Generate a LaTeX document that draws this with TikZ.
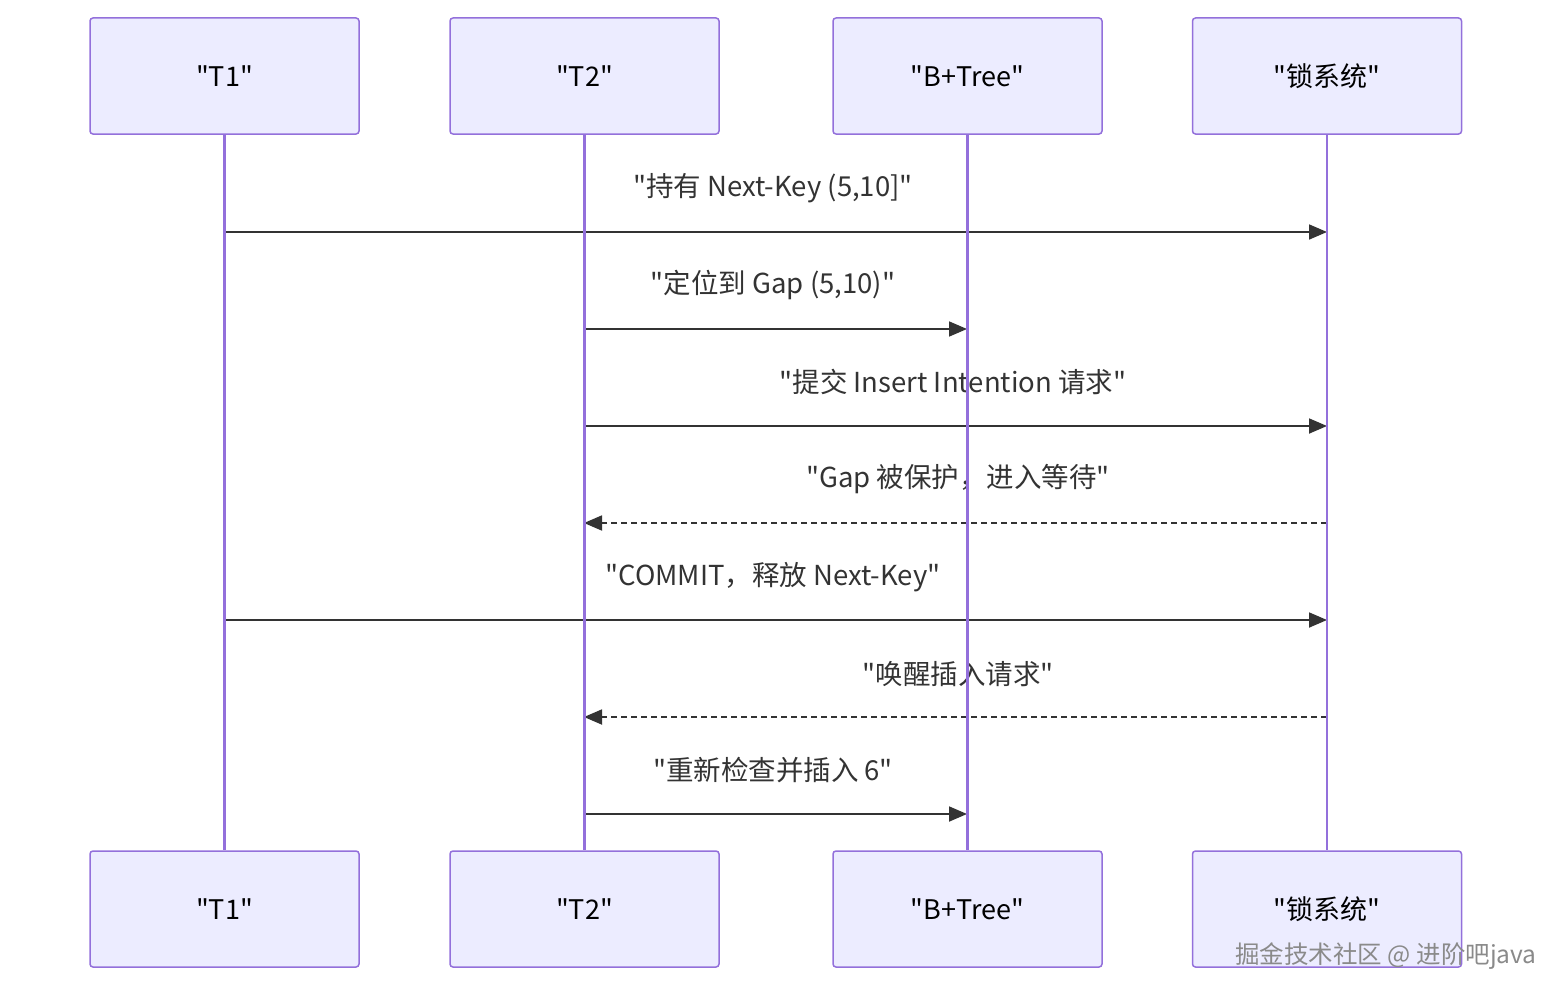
\documentclass[tikz,border=0pt]{standalone}
\usepackage{fontspec}
\newfontfamily\mf{Noto Sans CJK SC}
\usetikzlibrary{arrows.meta}
\definecolor{boxfill}{HTML}{ECECFF}
\definecolor{boxline}{HTML}{9370DB}
\definecolor{msg}{HTML}{333333}
\definecolor{wm}{HTML}{8A8A8A}
\begin{document}
\begin{tikzpicture}[x=1pt,y=-1pt,
  actor/.style={draw=boxline, fill=boxfill, line width=1.5pt, rounded corners=3pt,
    minimum width=269pt, minimum height=116pt, inner sep=0pt,
    font=\mf\fontsize{27}{30}\selectfont, text=black},
  life/.style={draw=boxline, line width=2.2pt},
  msgline/.style={draw=msg, line width=1.8pt, -{Triangle[length=18pt,width=15pt]}},
  retline/.style={msgline, dash pattern=on 6pt off 4pt},
  lbl/.style={font=\mf\fontsize{27.5}{30}\selectfont, text=msg, inner sep=0pt}
]
\useasboundingbox (0,0) rectangle (1568,998);
% actors
\node[actor] (t1t) at (224.5,76) {"T1"};
\node[actor] (t2t) at (584.5,76) {"T2"};
\node[actor] (btt) at (967.5,76) {"B+Tree"};
\node[actor] (lkt) at (1327,76) {"锁系统"};
\node[actor] (t1b) at (224.5,909) {"T1"};
\node[actor] (t2b) at (584.5,909) {"T2"};
\node[actor] (btb) at (967.5,909) {"B+Tree"};
\node[actor] (lkb) at (1327,909) {"锁系统"};
% message endpoints
\coordinate (m1s) at (225,232);  \coordinate (m1e) at (1327,232);
\coordinate (m2s) at (584,329);  \coordinate (m2e) at (967,329);
\coordinate (m3s) at (584,426);  \coordinate (m3e) at (1327,426);
\coordinate (m4s) at (1327,523); \coordinate (m4e) at (584,523);
\coordinate (m5s) at (225,620);  \coordinate (m5e) at (1327,620);
\coordinate (m6s) at (1327,717); \coordinate (m6e) at (584,717);
\coordinate (m7s) at (584,814);  \coordinate (m7e) at (967,814);
% messages
\draw[msgline] (m1s) -- (m1e);
\node[lbl] (l1) at (773,188) {"持有 Next-Key (5,10]"};
\draw[msgline] (m2s) -- (m2e);
\node[lbl] (l2) at (773,285) {"定位到 Gap (5,10)"};
\draw[msgline] (m3s) -- (m3e);
\node[lbl] (l3) at (953,382) {"提交 Insert Intention 请求"};
\draw[retline] (m4s) -- (m4e);
\node[lbl] (l4) at (958,479) {"Gap 被保护，进入等待"};
\draw[msgline] (m5s) -- (m5e);
\node[lbl] (l5) at (773,577) {"COMMIT，释放 Next-Key"};
\draw[retline] (m6s) -- (m6e);
\node[lbl] (l6) at (958,674) {"唤醒插入请求"};
\draw[msgline] (m7s) -- (m7e);
\node[lbl] (l7) at (773,770) {"重新检查并插入 6"};
% lifelines
\draw[life] (t1t.south) -- (t1b.north);
\draw[life] (t2t.south) -- (t2b.north);
\draw[life] (btt.south) -- (btb.north);
\draw[life] (lkt.south) -- (lkb.north);
% watermark
\node[font=\mf\fontsize{24.5}{28}\selectfont, text=wm, inner sep=0pt] (wmk) at (1386,956) {掘金技术社区 @ 进阶吧java};
\end{tikzpicture}
\end{document}
